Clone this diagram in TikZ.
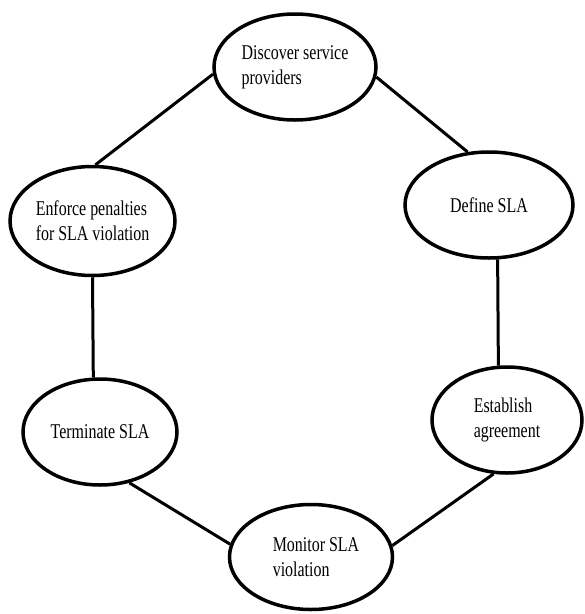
\documentclass[tikz,border=0pt]{standalone}
\usepackage{fontspec}
\setmainfont{Liberation Serif}
\newfontfamily\dfont[FakeStretch=0.76]{Liberation Serif}
\usetikzlibrary{shapes.geometric}
\begin{document}
\begin{tikzpicture}[x=1pt,y=-1pt,
  stage/.style={ellipse,draw=black,line width=3.5pt,inner sep=0pt,align=left,
    font=\dfont\fontsize{21}{25}\selectfont,text=black},
  link/.style={draw=black,line width=3pt}]
\useasboundingbox[fill=white] (0,0) rectangle (585,614);
\node[stage,minimum width=162,minimum height=106] (disc) at (295,67) {Discover service\\providers};
\node[stage,minimum width=168,minimum height=106] (define) at (489,205) {Define SLA};
\node[stage,minimum width=165,minimum height=109] (enforce) at (92.5,221) {Enforce penalties\\for SLA violation};
\node[stage,minimum width=154,minimum height=106] (term) at (100,432) {Terminate SLA};
\node[stage,minimum width=150,minimum height=106] (estab) at (507,420) {Establish\\agreement};
\node[stage,minimum width=163,minimum height=105] (monitor) at (311,557) {\hspace*{10pt}Monitor SLA\\\hspace*{10pt}violation};
\draw[link] (disc.-7) -- (define.112.5);
\draw[link] (disc.185.4) -- (enforce.87);
\draw[link] (enforce.south) -- (term.97);
\draw[link] (term.-60.5) -- (monitor.171.6);
\draw[link] (monitor.8.4) -- (estab.-104);
\draw[link] (define.-81) -- (estab.99);
\end{tikzpicture}
\end{document}
